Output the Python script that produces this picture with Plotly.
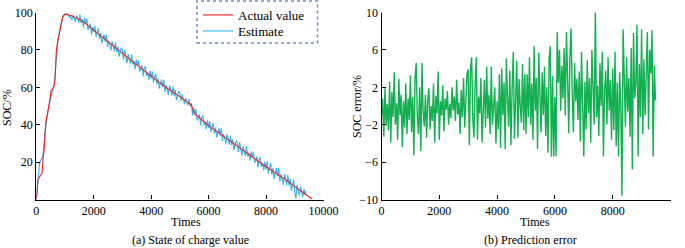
import plotly.graph_objects as go

# ---------------- data ----------------
actual_t = [0, 30, 50, 110, 170, 200, 215, 220, 240, 270, 290, 300, 310, 330, 380, 430, 480, 510,
            560, 620, 650, 670, 690, 700, 740, 800, 860, 920, 980, 1080, 1150, 1200, 1600, 2000,
            2500, 3000, 3500, 4000, 4500, 5000, 5400, 5500, 6000, 6500, 7000, 7500, 8000, 8500,
            9000, 9600]
actual_soc = [0, 4, 10.5, 12, 13.5, 14.2, 17, 20, 23, 26, 30, 33, 36, 41, 45, 49, 54, 58,
              59.5, 60.5, 64, 70, 75, 80, 84, 89, 94, 97.5, 99, 99, 98.5, 98.5, 95.5, 90.5,
              84, 78, 72, 66, 60, 55, 50.5, 46, 39.5, 34, 28.5, 23, 17.5, 12.5,
              7, 0.3]

est_charge_t = [0, 30, 50, 80, 110, 150, 200, 230, 260, 280, 300, 320, 360, 420, 470, 520, 560,
                620, 650, 670, 690, 710, 750, 800, 860, 920, 1000, 1100, 1160]
est_charge_soc = [0, 6, 12, 17, 19, 21, 22, 24, 27, 31, 36, 40, 43, 48, 53, 56, 58,
                  61, 66, 71, 76, 81, 85, 89.5, 94.5, 98, 99.2, 99, 97.5]

est_noise_t = list(range(1200, 9401, 40))
est_noise_soc = [
    97.8, 96.0, 98.6, 96.8, 95.0, 98.4, 97.1, 94.4, 98.9, 94.3,
    96.5, 92.0, 97.1, 93.8, 96.7, 90.6, 91.9, 94.0, 88.1, 92.4,
    89.3, 92.9, 87.0, 89.8, 91.5, 85.9, 89.0, 83.6, 86.5, 88.3,
    84.3, 88.1, 81.6, 85.0, 82.8, 79.8, 84.6, 82.7, 79.2, 83.9,
    78.8, 81.8, 76.3, 79.4, 81.2,
    79.8, 74.9, 80.0, 75.8, 72.9, 77.8, 75.5, 72.6, 77.6, 72.2,
    74.2, 69.7, 74.8, 71.6, 74.5, 68.4, 69.7, 71.8, 66.0, 70.3,
    71.2, 66.1, 68.0, 64.1, 68.9,
    64.8, 68.4, 62.5, 65.4, 67.2, 61.6, 64.7, 59.3, 62.4, 64.2,
    60.2, 64.0, 57.5, 61.0, 58.9, 56.0, 60.9, 59.1, 55.6, 60.4,
    55.4, 58.5, 53.1, 56.3, 58.1,
    56.3, 52.7, 56.2, 53.0, 51.0, 54.2, 52.6, 50.4, 53.8, 49.9,
    51.5, 45.0, 48.9, 45.5, 48.4, 42.3, 43.6, 45.7, 39.7, 44.0,
    44.9, 39.8, 41.7, 37.6, 42.4,
    38.3, 42.0, 36.1, 39.0, 40.8, 35.3, 38.5, 33.1, 36.2, 38.0,
    34.1, 38.0, 31.5, 35.0, 32.8, 29.9, 34.8, 32.9, 29.4, 34.1,
    29.1, 32.2, 26.7, 29.9, 31.6,
    30.3, 25.5, 30.6, 26.4, 23.5, 28.5, 26.3, 23.4, 28.4, 23.0,
    25.1, 20.7, 25.8, 22.6, 25.5, 19.5, 20.9, 23.0, 17.2, 21.5,
    22.5, 17.5, 19.4, 15.5, 20.3,
    16.1, 20.4, 13.8, 17.2, 19.5, 13.2, 16.9, 10.9, 14.5, 16.8,
    12.3, 16.9, 9.6, 13.7, 11.2, 7.9, 13.5, 11.5, 7.6, 13.1,
    7.4, 11.0, 4.7, 8.5, 10.5,
    4.0, 0.6, 7.8, 4.2, 2.0, 6.9, 3.6, 1.2, 5.8, 2.4, 4.5,
]

err_t = list(range(0, 9481, 40))
err_val = [
    -1.0, 0.8, -3.3, 1.9, -2.1, 0.2, -2.6, 2.6, -3.9, 1.5, -1.2, 3.6, -2.0, 0.3, -3.6, 2.9, -1.0, 1.2, -4.4, 0.5, -2.3, 2.4, -3.0, 0.8, -1.5,
    3.3, -2.8, 1.0, -5.3, 3.0, 4.6, -1.2, -3.0, 2.0, -4.8, 4.6, -0.5, -2.2, 1.2, -3.4, 0.6, 1.9, -2.5, 0.0, -1.6, 2.4, -3.9, 1.1, -0.8, 3.7,
    -3.6, 0.5, -1.0, 2.2, -2.7, 0.8, -0.4, 1.6, -2.0, 0.2, -1.3, 2.0, -0.5, 1.0, -1.6, 2.8, -0.9, 0.4, -3.0, 1.7, -1.2, 3.0, -2.3, 0.6, 3.5,
    3.9, -4.2, 4.1, 5.2, -1.5, -3.4, 2.4, 5.2, -3.6, 1.0, -0.8, 3.0, -3.9, 0.5, 2.8, -2.3, 4.2, -1.4, 1.2, -3.0, 4.2, -2.0, 0.2, 2.0, -4.0,
    0.5, -2.5, 3.4, -4.5, 4.0, -1.0, 2.5, -4.6, 5.1, 0.8, -2.2, 3.8, -4.2, 2.0, 5.8, -3.5, 1.5, 4.8, -3.4, 2.9, 0.0, -1.8, 4.5, -2.6, 3.4,
    -3.0, 3.4, -1.2, 5.2, -2.0, 2.4, -3.6, 6.4, -0.5, 3.0, -4.6, 5.7, 1.5, -2.8, 3.6, -1.0, 4.2, -3.2, 2.0, -5.0, 5.0, 6.4, -5.4, 3.2, -5.4,
    1.0, -5.4, 7.9, 2.5, 6.0, -0.5, 4.3, 0.8, 6.2, -1.0, 7.9, 3.0, -2.9, 5.2, 8.3, 1.2, -2.8, 4.6, 0.5, 2.9, -1.5, 3.7, -3.8, 5.8, 0.2,
    -5.4, 2.6, -2.5, 4.9, -0.8, 3.0, -3.9, 6.0, 0.5, -2.0, 10.3, -1.2, 2.2, -3.2, 4.6, 0.0, 5.8, -5.4, 1.8, 3.8, -2.0, 5.2, -0.5, 2.8, -3.6,
    4.0, -2.6, 5.8, -4.3, 2.5, -5.4, 3.6, 0.0, -9.6, 8.2, 1.5, -2.2, 5.2, -0.6, 3.0, -3.3, 6.2, -6.8, 7.8, 0.8, 2.4, 8.7, -5.4, 4.5, -1.2,
    8.2, -3.0, 5.0, -1.0, 2.5, 7.9, -2.5, 6.0, 3.5, 8.1, -5.4, 4.3, 0.6,
]

x_ticks = [0, 2000, 4000, 6000, 8000, 10000]
x_tick_labels = ["0", "2000", "4000", "6000", "8000", "10000"]
soc_ticks = [20, 40, 60, 80, 100]
err_ticks = [-10, -6, -2, 2, 6, 10]

# ---------------- figure ----------------
W, H = 685, 248
FONT = "Liberation Serif"
RED = "#ff1a1a"
BLUE = "#33b4ea"
GREEN = "#12b050"

def px_x(p):
    return p / W

def px_y(p):
    return (H - p) / H

fig = go.Figure()

fig.add_trace(go.Scatter(x=est_charge_t + est_noise_t, y=est_charge_soc + est_noise_soc,
                         mode="lines", line=dict(color=BLUE, width=1.1),
                         name="Estimate", legend="legend2", xaxis="x", yaxis="y"))
fig.add_trace(go.Scatter(x=actual_t, y=actual_soc, mode="lines",
                         line=dict(color=RED, width=1.1),
                         name="Actual value", legend="legend", xaxis="x", yaxis="y"))
fig.add_trace(go.Scatter(x=err_t, y=err_val, mode="lines",
                         line=dict(color=GREEN, width=1.4),
                         showlegend=False, xaxis="x2", yaxis="y2"))

y_dom = [px_y(199.5), px_y(12.5)]
axis_common = dict(showline=True, linecolor="black", linewidth=1.2, ticks="inside",
                   ticklen=4, tickcolor="black", showgrid=False, zeroline=False,
                   automargin=False,
                   tickfont=dict(family=FONT, size=12, color="black"))

legend_common = dict(xanchor="left", yanchor="middle", bgcolor="rgba(255,255,255,0)",
                     borderwidth=0, font=dict(family=FONT, size=13, color="black"),
                     itemwidth=30)

fig.update_layout(
    width=W, height=H, margin=dict(l=0, r=0, t=0, b=0, pad=0, autoexpand=False),
    paper_bgcolor="white", plot_bgcolor="white",
    font=dict(family=FONT, size=12, color="black"),
    xaxis=dict(domain=[px_x(36.3), px_x(323.5)], range=[0, 10000], tickvals=x_ticks,
               ticktext=x_tick_labels, anchor="y", **axis_common),
    yaxis=dict(domain=y_dom, range=[0, 100], tickvals=soc_ticks, anchor="x", **axis_common),
    xaxis2=dict(domain=[px_x(381.5), px_x(670.5)], range=[0, 10000], tickvals=x_ticks,
                ticktext=x_tick_labels, anchor="y2", **axis_common),
    yaxis2=dict(domain=y_dom, range=[-10, 10], tickvals=err_ticks, anchor="x2", **axis_common),
    showlegend=True,
    legend=dict(x=px_x(198), y=px_y(15), **legend_common),
    legend2=dict(x=px_x(198), y=px_y(31), **legend_common),
)

fig.add_shape(type="rect", xref="paper", yref="paper",
              x0=px_x(197), x1=px_x(317.5), y0=px_y(43), y1=px_y(1),
              line=dict(color="#6d8cc4", width=1.5, dash="dot"), fillcolor="rgba(0,0,0,0)")

ann = [
    ("Times", 186, 222, 0),
    ("Times", 535, 222, 0),
    ("(a) State of charge value", 190, 240, 0),
    ("(b) Prediction error", 530, 240, 0),
    ("SOC/%", 7, 108, -90),
    ("SOC error/%", 357, 107, -90),
]
for text, xp, yp, ang in ann:
    fig.add_annotation(text=text, xref="paper", yref="paper", x=px_x(xp), y=px_y(yp),
                       xanchor="center", yanchor="middle", showarrow=False, textangle=ang,
                       font=dict(family=FONT, size=12, color="black"))

fig.write_html("out.html", config={"displayModeBar": False},
               post_script="document.body.style.margin='0px';document.body.style.overflow='hidden';")
